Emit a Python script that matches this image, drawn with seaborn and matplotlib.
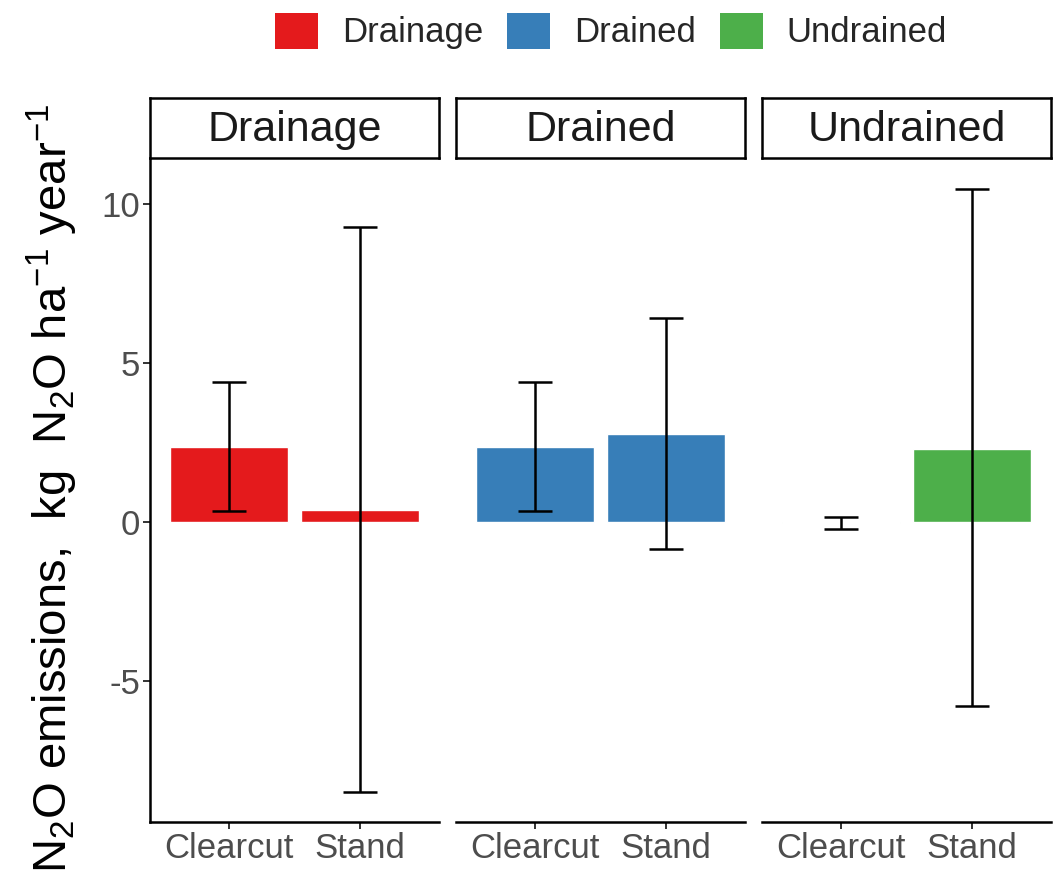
import matplotlib
matplotlib.use("Agg")
import matplotlib.pyplot as plt
from matplotlib.patches import Patch
import numpy as np
import pandas as pd
import seaborn as sns

# Data
groups = ["Drainage", "Drained", "Undrained"]
stands = ["Clearcut", "Stand"]
mean_drainage = [2.36, 0.38]
mean_drained = [2.36, 2.77]
mean_undrained = [-0.03, 2.30]
low_drainage = [0.35, -8.49]
low_drained = [0.35, -0.85]
low_undrained = [-0.22, -5.79]
high_drainage = [4.40, 9.28]
high_drained = [4.40, 6.42]
high_undrained = [0.16, 10.48]
colors = ["#E41A1C", "#377EB8", "#4DAF4A"]
yticks = [-5, 0, 5, 10]

means = [mean_drainage, mean_drained, mean_undrained]
lows = [low_drainage, low_drained, low_undrained]
highs = [high_drainage, high_drained, high_undrained]

rows = []
for g, m, lo, hi in zip(groups, means, lows, highs):
    for s, mv, l, h in zip(stands, m, lo, hi):
        rows.append({"group": g, "stand": s, "value": mv, "low": l, "high": h})
df = pd.DataFrame(rows)

sns.set_theme(style="white")
plt.rcParams["font.family"] = ["Liberation Sans", "DejaVu Sans"]
plt.rcParams["mathtext.fontset"] = "custom"
plt.rcParams["mathtext.rm"] = "Liberation Sans"
plt.rcParams["mathtext.it"] = "Liberation Sans:italic"

W, H = 1063, 884
fig = plt.figure(figsize=(W / 100, H / 100), dpi=100)

panel_left = [150, 456, 762]
panel_w = 289
panel_top, panel_bot = 158, 822
strip_top = 98

ymin, ymax = -9.44, 11.45

for i, g in enumerate(groups):
    ax = fig.add_axes([panel_left[i] / W, 1 - panel_bot / H, panel_w / W, (panel_bot - panel_top) / H])
    sub = df[df["group"] == g]
    sns.barplot(data=sub, x="stand", y="value", color=colors[i], width=0.9,
                saturation=1, ax=ax, errorbar=None)
    ax.errorbar(np.arange(len(sub)), sub["value"],
                yerr=[sub["value"] - sub["low"], sub["high"] - sub["value"]],
                fmt="none", ecolor="black", elinewidth=1.8, capsize=12, capthick=1.8)
    ax.set_xlim(-0.6, 1.6)
    ax.set_ylim(ymin, ymax)
    ax.set_xlabel("")
    ax.set_ylabel("")
    for sp in ["top", "right"]:
        ax.spines[sp].set_visible(False)
    ax.spines["bottom"].set_linewidth(1.8)
    ax.spines["bottom"].set_color("black")
    ax.tick_params(axis="x", length=5, width=1.4, color="#333333", labelsize=25,
                   labelcolor="#4D4D4D", pad=2, bottom=True)
    if i == 0:
        ax.spines["left"].set_linewidth(1.8)
        ax.spines["left"].set_color("black")
        ax.set_yticks(yticks)
        ax.set_yticklabels([str(t) for t in yticks])
        ax.tick_params(axis="y", length=5, width=1.4, color="#333333", labelsize=25,
                       labelcolor="#4D4D4D", pad=2, left=True)
    else:
        ax.spines["left"].set_visible(False)
        ax.set_yticks(yticks)
        ax.tick_params(axis="y", left=False, labelleft=False)
    ax.grid(False)

    # facet strip
    sax = fig.add_axes([panel_left[i] / W, 1 - panel_top / H, panel_w / W, (panel_top - strip_top) / H])
    sax.set_xticks([])
    sax.set_yticks([])
    for sp in sax.spines.values():
        sp.set_linewidth(1.8)
        sp.set_color("black")
    sax.set_facecolor("white")
    sax.text(0.5, 0.47, g, ha="center", va="center", fontsize=31, color="#1A1A1A",
             transform=sax.transAxes)

fig.text(52 / W, 1 - 488 / H,
         r"N$_2$O emissions,  kg  N$_2$O ha$^{-1}$ year$^{-1}$",
         rotation=90, ha="center", va="center", fontsize=34, color="black")

handles = [Patch(facecolor=c, edgecolor="none") for c in colors]
fig.legend(handles, groups, loc="center", bbox_to_anchor=(611 / W, 1 - 31 / H), ncol=3,
           frameon=False, fontsize=25, handlelength=1.24, handleheight=1.24,
           handletextpad=0.69, columnspacing=0.69)

fig.savefig("out.png", dpi=100, facecolor="white")
